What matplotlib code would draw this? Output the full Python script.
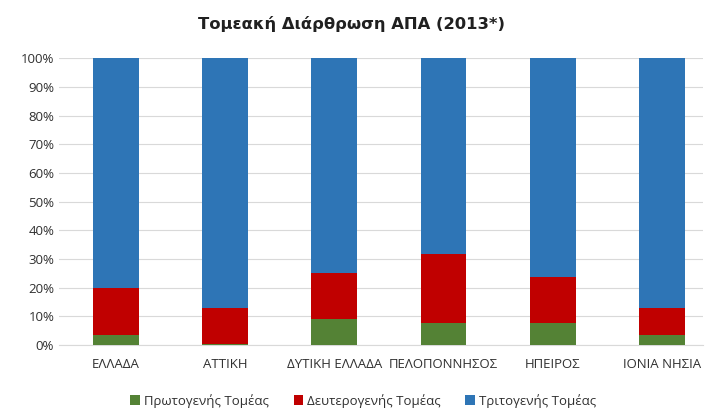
import matplotlib.pyplot as plt
import numpy as np
from matplotlib.ticker import PercentFormatter

# sector shares of GVA per region, percent
regions = ["ΕΛΛΑΔΑ", "ΑΤΤΙΚΗ", "ΔΥΤΙΚΗ ΕΛΛΑΔΑ", "ΠΕΛΟΠΟΝΝΗΣΟΣ", "ΗΠΕΙΡΟΣ", "ΙΟΝΙΑ ΝΗΣΙΑ"]
primary = [3.5, 0.3, 9.1, 7.7, 7.7, 3.5]
secondary = [16.5, 12.6, 16.0, 24.0, 16.0, 9.4]
tertiary = [80.0, 87.1, 74.9, 68.3, 76.3, 87.1]
series_names = ["Πρωτογενής Τομέας", "Δευτερογενής Τομέας", "Τριτογενής Τομέας"]

COLORS = ["#548235", "#C00000", "#2E75B6"]
FONT = "Open Sans"

fig = plt.figure(figsize=(7.12, 4.08), dpi=100)
ax = fig.add_axes([0.083, 0.154, 0.905, 0.703])

x = np.arange(len(regions))
bottom = np.zeros(len(regions))
for vals, name, col in zip([primary, secondary, tertiary], series_names, COLORS):
    ax.bar(x, vals, 0.42, bottom=bottom, color=col, label=name, zorder=3)
    bottom += np.array(vals)

ax.set_ylim(0, 100)
ax.set_xlim(-0.52, len(regions) - 0.62)
ax.set_yticks(np.arange(0, 101, 10))
ax.yaxis.set_major_formatter(PercentFormatter(decimals=0))
ax.set_xticks(x)
ax.set_xticklabels(regions)
ax.grid(axis="y", color="#d9d9d9", linewidth=0.8, zorder=0)
for s in ax.spines.values():
    s.set_visible(False)
ax.spines["bottom"].set_visible(True)
ax.spines["bottom"].set_color("#d9d9d9")
ax.tick_params(length=0, labelsize=9.5, colors="#303030", labelfontfamily=FONT)
ax.tick_params(axis="x", pad=9)

fig.text(0.493, 0.942, "Τομεακή Διάρθρωση ΑΠΑ (2013*)", ha="center", va="center",
         fontsize=11.8, fontweight="bold", family="DejaVu Sans", color="#202020")

fig.legend(loc="lower center", bbox_to_anchor=(0.51, -0.028), ncol=3, frameon=False,
           prop={"family": FONT, "size": 9.5}, handlelength=0.7, handleheight=0.7,
           handletextpad=0.3, columnspacing=1.9, labelcolor="#303030")

fig.savefig("out.png", dpi=100)
